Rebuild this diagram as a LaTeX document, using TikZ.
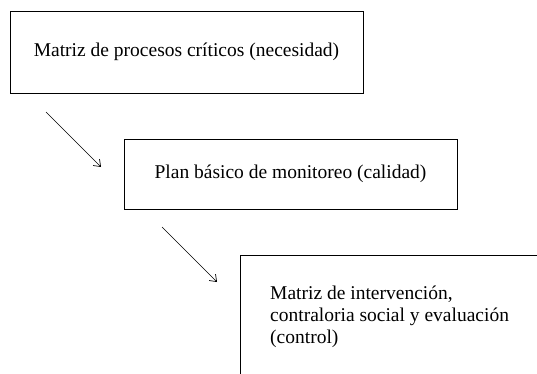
\documentclass[tikz,border=0pt]{standalone}
\usepackage{fontspec}
\setmainfont{Liberation Serif}
\usetikzlibrary{arrows.meta}
\tikzset{
  box/.style={draw=black, line width=0.9pt, rectangle, inner sep=0pt, align=center,
    font=\fontsize{19.5}{22}\selectfont},
  flow/.style={draw=black, line width=0.7pt, -{Straight Barb[length=6pt,width=9pt,line width=0.7pt]}},
  label/.style={inner sep=0pt, align=left, anchor=north west, font=\fontsize{19.5}{22}\selectfont}
}
\begin{document}
\begin{tikzpicture}[x=1pt,y=-1pt]
\useasboundingbox (0,0) rectangle (537,374);
\fill[white] (0,0) rectangle (537,374);
\node[box, minimum width=353pt, minimum height=82pt] (b1) at (186.5,52) {Matriz de procesos críticos (necesidad)};
\node[box, minimum width=333pt, minimum height=70pt] (b2) at (290.5,174) {Plan básico de monitoreo (calidad)};
\begin{scope}
\clip (0,0) rectangle (537,374);
\node[box, minimum width=310pt, minimum height=130pt] (b3) at (395,320) {};
\end{scope}
\node[label] (t3) at (270,283.6) {\strut Matriz de intervención,\\contraloria social y evaluación\\(control)};
\coordinate (a1s) at (46,112);
\coordinate (a1e) at (101,167);
\coordinate (a2s) at (162,227);
\coordinate (a2e) at (217,282);
\draw[flow] (a1s) -- (a1e);
\draw[flow] (a2s) -- (a2e);
\end{tikzpicture}
\end{document}
